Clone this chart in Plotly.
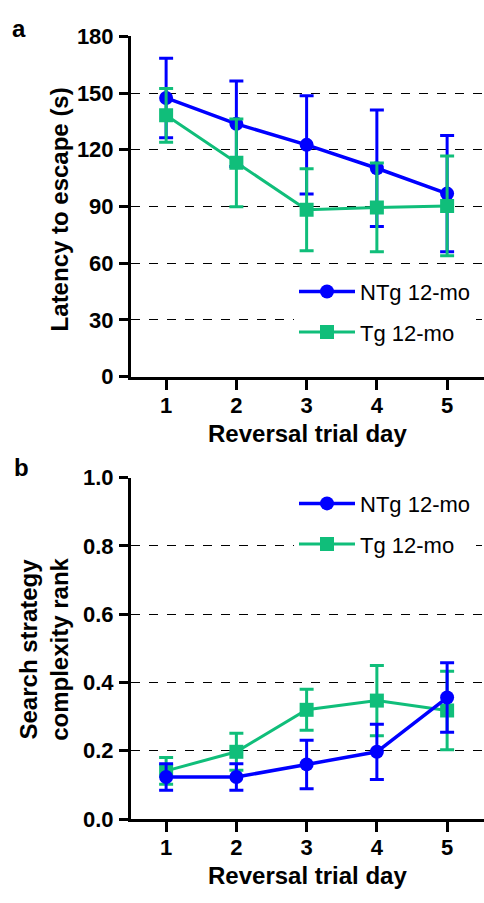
import plotly.graph_objects as go

# ---- data ----
days = [1, 2, 3, 4, 5]
day_ticks = ["1", "2", "3", "4", "5"]

ntg_latency = [147.4, 133.7, 122.6, 110.2, 96.8]
ntg_latency_err = [21.0, 22.6, 26.0, 30.8, 30.7]
tg_latency = [138.2, 113.1, 88.3, 89.5, 90.3]
tg_latency_err = [14.2, 23.2, 21.7, 23.5, 26.4]

ntg_rank = [0.123, 0.123, 0.160, 0.197, 0.356]
ntg_rank_err = [0.039, 0.039, 0.071, 0.081, 0.102]
tg_rank = [0.141, 0.197, 0.320, 0.347, 0.318]
tg_rank_err = [0.039, 0.054, 0.060, 0.103, 0.115]

latency_ticks = [0, 30, 60, 90, 120, 150, 180]
rank_ticks = [0.0, 0.2, 0.4, 0.6, 0.8, 1.0]

NTG_NAME = "NTg 12-mo"
TG_NAME = "Tg 12-mo"

# ---- style ----
W, H = 484, 903
BLUE = "#0000FF"
GREEN = "#10BE7A"
FONT = "Liberation Sans, Arial, sans-serif"


def px_x(p):
    return p / W


def px_y(p):
    return 1 - p / H


fig = go.Figure()


def add_series(x, y, err, name, color, symbol, xa, ya, legend, rank, lw):
    fig.add_trace(go.Scatter(
        x=x, y=y, name=name, mode="lines+markers",
        xaxis=xa, yaxis=ya, legend=legend, legendrank=rank,
        line=dict(color=color, width=lw),
        marker=dict(color=color, symbol=symbol, size=14, line=dict(width=0)),
        error_y=dict(type="data", array=err, visible=True, color=color,
                     thickness=3, width=7),
        legendgroup=name + legend,
    ))


# top panel: NTg below, Tg above
add_series(days, ntg_latency, ntg_latency_err, NTG_NAME, BLUE, "circle", "x", "y", "legend", 1, 3.5)
add_series(days, tg_latency, tg_latency_err, TG_NAME, GREEN, "square", "x", "y", "legend", 2, 3)
# bottom panel: Tg below, NTg above
add_series(days, tg_rank, tg_rank_err, TG_NAME, GREEN, "square", "x2", "y2", "legend2", 2, 3)
add_series(days, ntg_rank, ntg_rank_err, NTG_NAME, BLUE, "circle", "x2", "y2", "legend2", 1, 3.5)

xdom = [px_x(131), 1.0]
top_dom = [px_y(375), px_y(25)]
bot_dom = [px_y(830), px_y(479)]

common_x = dict(
    range=[0.5, 5.525], tickmode="array", tickvals=days, ticktext=day_ticks,
    showline=True, linecolor="black", linewidth=3, ticks="outside",
    ticklen=10, tickwidth=3, tickcolor="black", showgrid=False, zeroline=False,
    tickfont=dict(family=FONT, size=22, color="black", weight="bold"),
    ticklabelstandoff=-3,
)
common_y = dict(
    showline=True, linecolor="black", linewidth=3, ticks="outside",
    ticklen=9, tickwidth=3, tickcolor="black", zeroline=False,
    showgrid=True, gridcolor="black", gridwidth=1.2, griddash="dash",
    tickfont=dict(family=FONT, size=22, color="black", weight="bold"),
    ticklabelstandoff=1,
)

legend_common = dict(
    bgcolor="white", borderwidth=0,
    font=dict(family=FONT, size=22, color="black"),
    xanchor="left", yanchor="top", tracegroupgap=9,
    traceorder="grouped", itemwidth=56,
)

fig.update_layout(
    width=W, height=H,
    margin=dict(l=0, r=0, t=0, b=0),
    plot_bgcolor="white", paper_bgcolor="white",
    showlegend=True,
    xaxis=dict(domain=xdom, anchor="y", **common_x),
    yaxis=dict(domain=top_dom, anchor="x", range=[0, 180],
               tickmode="array", tickvals=latency_ticks, **common_y),
    xaxis2=dict(domain=xdom, anchor="y2", **common_x),
    yaxis2=dict(domain=bot_dom, anchor="x2", range=[0, 1.0],
                tickmode="array", tickvals=rank_ticks, tickformat=".1f", **common_y),
    legend=dict(x=px_x(294), y=px_y(266), **legend_common),
    legend2=dict(x=px_x(294), y=px_y(484), **legend_common),
)

title_font = dict(family=FONT, size=24, color="black", weight="bold")
annots = [
    dict(text="a", x=px_x(19), y=px_y(17), font=dict(family=FONT, size=24, color="black", weight="bold")),
    dict(text="b", x=px_x(21), y=px_y(468), font=dict(family=FONT, size=24, color="black", weight="bold")),
    dict(text="Latency to escape (s)", x=px_x(59), y=px_y(203), textangle=-90, font=title_font),
    dict(text="Search strategy<br>complexity rank", x=px_x(44), y=px_y(656), textangle=-90, font=title_font),
    dict(text="Reversal trial day", x=px_x(307), y=px_y(434), font=title_font),
    dict(text="Reversal trial day", x=px_x(307), y=px_y(888), font=title_font),
]
for a in annots:
    fig.add_annotation(xref="paper", yref="paper", showarrow=False,
                       xanchor="center", yanchor="middle", **a)

fig.write_html("out.html")
